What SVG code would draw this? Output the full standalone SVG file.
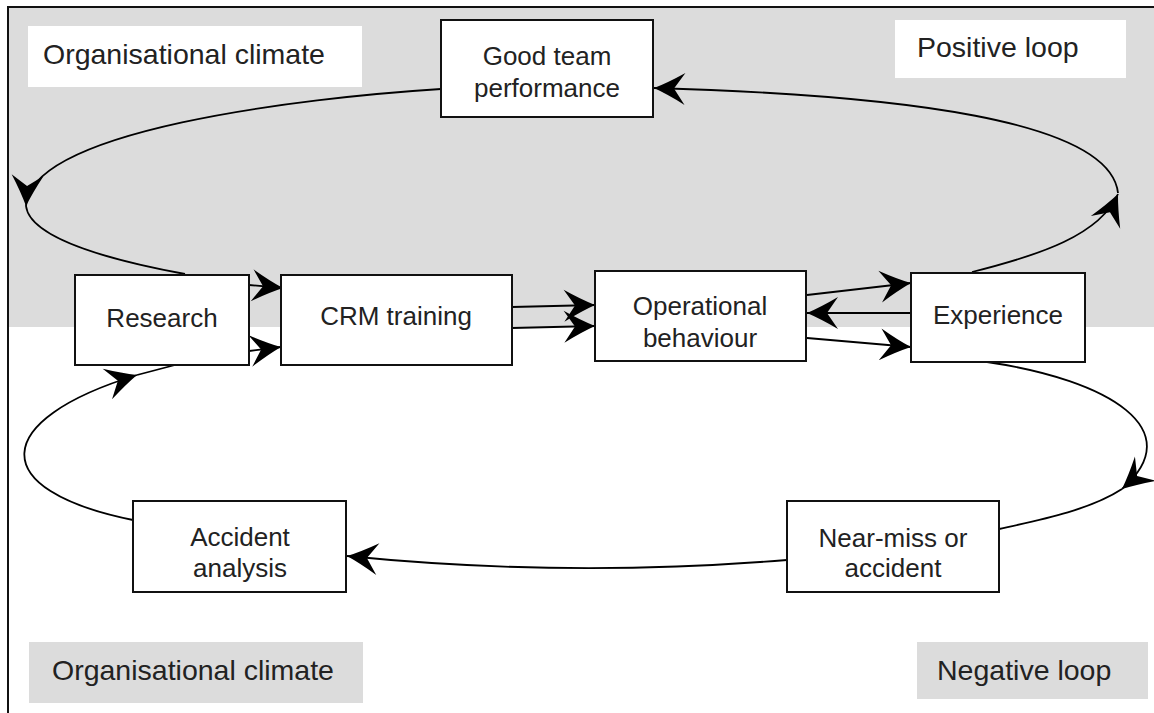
<svg xmlns="http://www.w3.org/2000/svg" width="1154" height="713" viewBox="0 0 1154 713">
  <style>
    .node rect { fill: #ffffff; stroke: #111111; stroke-width: 2; }
    .node text { font-family: "Liberation Sans", Arial, sans-serif; font-size: 26px; fill: #222222; text-anchor: middle; }
    .label text { font-family: "Liberation Sans", Arial, sans-serif; font-size: 28.5px; fill: #222222; }
    .conn { fill: none; stroke: #000000; stroke-width: 1.8; }
    .arrow { marker-end: url(#ah); }
  </style>
  <defs>
    <marker id="ah" markerUnits="userSpaceOnUse" viewBox="-32 -17 34 34" refX="0" refY="0" markerWidth="34" markerHeight="34" orient="auto">
      <path d="M0,0 Q-14,-6 -31,-16 L-20,0 L-31,16 Q-14,6 0,0 Z" fill="#000000"/>
    </marker>
  </defs>

  <!-- background and frame -->
  <rect x="9" y="8" width="1145" height="319" fill="#dcdcdc"/>
  <path d="M8,713 L8,7 L1154,7" fill="none" stroke="#111111" stroke-width="2"/>

  <!-- labels -->
  <g id="label-org-top" class="label">
    <rect x="28" y="26" width="334" height="61" fill="#ffffff"/>
    <text x="43" y="64">Organisational climate</text>
  </g>
  <g id="label-positive" class="label">
    <rect x="895" y="20" width="231" height="58" fill="#ffffff"/>
    <text x="917" y="57">Positive loop</text>
  </g>
  <g id="label-org-bottom" class="label">
    <rect x="29" y="642" width="334" height="61" fill="#dcdcdc"/>
    <text x="52" y="680">Organisational climate</text>
  </g>
  <g id="label-negative" class="label">
    <rect x="917" y="642" width="231" height="57" fill="#dcdcdc"/>
    <text x="937" y="680">Negative loop</text>
  </g>

  <!-- connectors -->
  <g id="connectors">
    <path class="conn arrow" d="M441,89 C300,98 30,130 26,206"/>
    <path class="conn" d="M26,206 C30,240 120,262 185,274"/>
    <path class="conn arrow" d="M972,272 C1040,255 1100,235 1118,194"/>
    <path class="conn arrow" d="M1118,193 C1110,120 900,95 654,88"/>
    <path class="conn arrow" d="M987,362 C1110,380 1190,430 1122,489"/>
    <path class="conn" d="M1122,489 C1090,510 1040,520 999,529"/>
    <path class="conn arrow" d="M787,560 Q567,578 347,556"/>
    <path class="conn arrow" d="M133,520 C-15,490 -10,420 137,375"/>
    <path class="conn" d="M137,375 L175,365"/>
    <path class="conn arrow" d="M249,285 L283,288"/>
    <path class="conn arrow" d="M249,351 L281,347"/>
    <path class="conn arrow" d="M512,307 L595,305"/>
    <path class="conn arrow" d="M512,328 L595,326"/>
    <path class="conn arrow" d="M807,295 L911,283"/>
    <path class="conn arrow" d="M911,313 L807,313"/>
    <path class="conn arrow" d="M807,338 L911,347"/>
  </g>

  <!-- nodes -->
  <g id="node-good-team" class="node">
    <rect x="441" y="20" width="212" height="97"/>
    <text x="547" y="65">Good team</text>
    <text x="547" y="97">performance</text>
  </g>
  <g id="node-research" class="node">
    <rect x="75" y="275" width="174" height="90"/>
    <text x="162" y="327">Research</text>
  </g>
  <g id="node-crm" class="node">
    <rect x="281" y="275" width="231" height="90"/>
    <text x="396" y="325">CRM training</text>
  </g>
  <g id="node-operational" class="node">
    <rect x="595" y="271" width="211" height="90"/>
    <text x="700" y="315">Operational</text>
    <text x="700" y="347">behaviour</text>
  </g>
  <g id="node-experience" class="node">
    <rect x="911" y="273" width="174" height="89"/>
    <text x="998" y="324">Experience</text>
  </g>
  <g id="node-accident-analysis" class="node">
    <rect x="133" y="501" width="213" height="91"/>
    <text x="240" y="546">Accident</text>
    <text x="240" y="577">analysis</text>
  </g>
  <g id="node-near-miss" class="node">
    <rect x="787" y="501" width="212" height="91"/>
    <text x="893" y="547">Near-miss or</text>
    <text x="893" y="577">accident</text>
  </g>
</svg>
